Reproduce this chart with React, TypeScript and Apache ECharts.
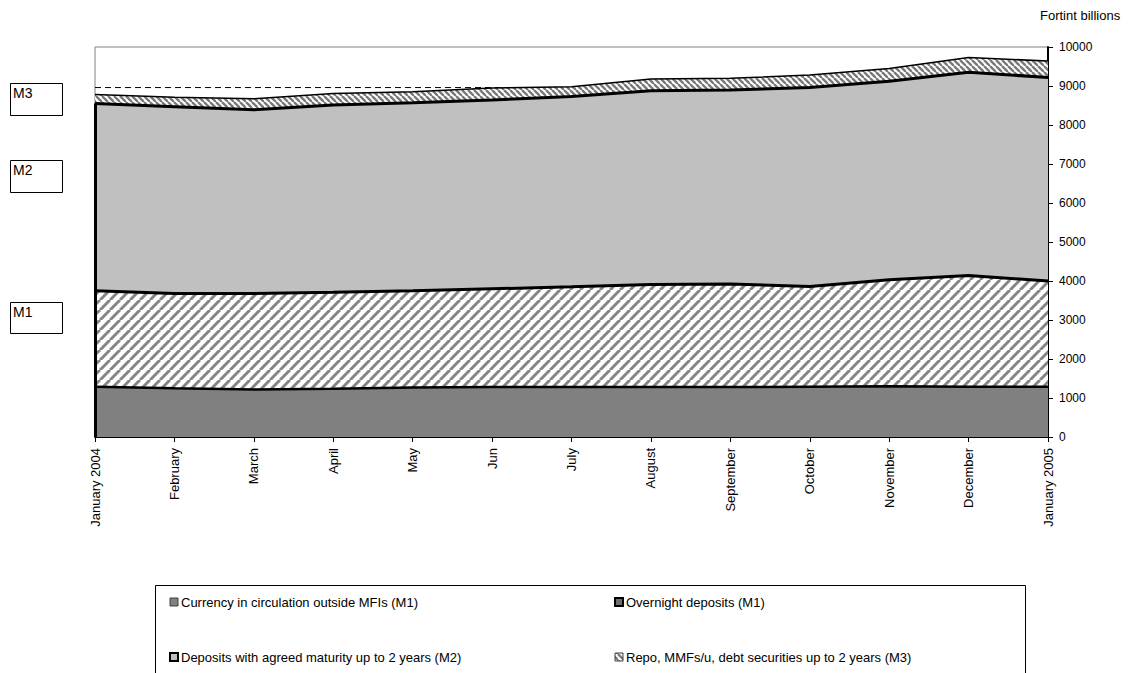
import React, { useEffect, useRef } from "react";
import * as echarts from "echarts";

// Monthly monetary aggregates, Fortint billions (stacked components)
const months = [
  "January 2004", "February", "March", "April", "May", "Jun", "July",
  "August", "September", "October", "November", "December", "January 2005",
];
const currency = [1290, 1250, 1220, 1240, 1270, 1280, 1280, 1280, 1280, 1290, 1300, 1290, 1290];
const overnight = [2460, 2430, 2460, 2470, 2480, 2520, 2570, 2630, 2640, 2570, 2730, 2850, 2710];
const agreedMaturity = [4800, 4790, 4710, 4800, 4820, 4840, 4880, 4970, 4980, 5100, 5090, 5210, 5220];
const repoMmf = [230, 240, 280, 300, 280, 310, 250, 300, 300, 320, 330, 380, 420];
const dashedLevel = [8960, 8960, 8960, 8960, 8960, 8960, 8960, 8960, 8960, 8960, 8960, 8960, 8960];

const seriesNames = [
  "Currency in circulation outside MFIs (M1)",
  "Overnight deposits (M1)",
  "Deposits with agreed maturity up to 2 years (M2)",
  "Repo, MMFs/u, debt securities up to 2 years (M3)",
];
const aggregateLabels = ["M3", "M2", "M1"];
const unitLabel = "Fortint billions";
const yMin = 0;
const yMax = 10000;
const yStep = 1000;

const FONT = "Arial, 'Liberation Sans', sans-serif";

function hatch(size: number, dir: "/" | "\\", color: string, lw: number) {
  const c = document.createElement("canvas");
  c.width = size;
  c.height = size;
  const g = c.getContext("2d")!;
  g.fillStyle = "#ffffff";
  g.fillRect(0, 0, size, size);
  g.strokeStyle = color;
  g.lineWidth = lw;
  for (const k of [-size, 0, size]) {
    g.beginPath();
    if (dir === "/") {
      g.moveTo(k, size);
      g.lineTo(k + size, 0);
    } else {
      g.moveTo(k, 0);
      g.lineTo(k + size, size);
    }
    g.stroke();
  }
  return { image: c, repeat: "repeat" as const };
}

export default function App() {
  const ref = useRef<HTMLDivElement>(null);

  useEffect(() => {
    if (!ref.current) return;
    const chart = echarts.init(ref.current, undefined, { renderer: "svg" });

    const overnightFill = hatch(10, "/", "#858585", 3.0);
    const repoFill = hatch(6, "\\", "#7a7a7a", 2.4);
    const m2Start = currency[0] + overnight[0] + agreedMaturity[0];

    const boxTops = [83, 160, 302];
    const boxHeights = [32, 32, 31];
    const labelBoxes = aggregateLabels.flatMap((t, i) => [
      {
        type: "rect",
        shape: { x: 10.5, y: boxTops[i] + 0.5, width: 52, height: boxHeights[i] },
        style: { fill: "#fff", stroke: "#000", lineWidth: 1 },
      },
      {
        type: "text",
        x: 13,
        y: boxTops[i] + 3,
        style: { text: t, font: `14px ${FONT}`, fill: "#000" },
      },
    ]);

    const legendIcons = [
      { fill: "#808080", stroke: "#404040", lw: 1 },
      { fill: "#6e6e6e", stroke: "#000", lw: 2 },
      { fill: "#c0c0c0", stroke: "#000", lw: 2 },
      { fill: repoFill, stroke: "#404040", lw: 1 },
    ];
    const legendX = [170, 615, 170, 615];
    const legendY = [602, 602, 657, 657];
    const legendItems = seriesNames.flatMap((name, i) => [
      {
        type: "rect",
        shape: { x: legendX[i], y: legendY[i] - 4, width: 8, height: 8 },
        style: { fill: legendIcons[i].fill, stroke: legendIcons[i].stroke, lineWidth: legendIcons[i].lw },
      },
      {
        type: "text",
        x: legendX[i] + 11,
        y: legendY[i],
        style: { text: name, font: `13px ${FONT}`, fill: "#000", verticalAlign: "middle" },
      },
    ]);

    chart.setOption({
      animation: false,
      backgroundColor: "#fff",
      grid: {
        left: 95,
        right: 82,
        top: 47,
        bottom: 236,
        show: true,
        borderColor: "#808080",
        borderWidth: 1,
      },
      xAxis: {
        type: "category",
        data: months,
        boundaryGap: false,
        axisLine: { lineStyle: { color: "#000", width: 2 } },
        axisTick: { show: true, length: 5, lineStyle: { color: "#000", width: 1 } },
        axisLabel: {
          rotate: 90,
          interval: 0,
          fontSize: 13,
          fontFamily: FONT,
          color: "#000",
          margin: 11,
        },
        splitLine: { show: false },
      },
      yAxis: {
        type: "value",
        position: "right",
        min: yMin,
        max: yMax,
        interval: yStep,
        axisLine: { show: true, lineStyle: { color: "#000", width: 2 } },
        axisTick: { show: true, length: 5, lineStyle: { color: "#000", width: 1 } },
        axisLabel: {
          fontSize: 12,
          fontFamily: FONT,
          color: "#000",
          margin: 11,
          formatter: (v: number) => String(v),
        },
        splitLine: { show: false },
      },
      series: [
        {
          name: "level",
          type: "line",
          data: dashedLevel,
          symbol: "none",
          silent: true,
          z: 1,
          lineStyle: { color: "#000", width: 1, type: [6, 4] },
        },
        {
          name: seriesNames[0],
          type: "line",
          stack: "money",
          data: currency,
          symbol: "none",
          z: 2,
          lineStyle: { color: "#000", width: 2.5 },
          areaStyle: { color: "#808080", opacity: 1 },
        },
        {
          name: seriesNames[1],
          type: "line",
          stack: "money",
          data: overnight,
          symbol: "none",
          z: 2,
          lineStyle: { color: "#000", width: 3 },
          areaStyle: { color: overnightFill, opacity: 1 },
        },
        {
          name: seriesNames[2],
          type: "line",
          stack: "money",
          data: agreedMaturity,
          symbol: "none",
          z: 2,
          lineStyle: { color: "#000", width: 3 },
          areaStyle: { color: "#c0c0c0", opacity: 1 },
          markLine: {
            silent: true,
            symbol: ["none", "none"],
            label: { show: false },
            lineStyle: { color: "#000", width: 3, type: "solid" },
            data: [[{ coord: [0, 0] }, { coord: [0, m2Start] }]],
          },
        },
        {
          name: seriesNames[3],
          type: "line",
          stack: "money",
          data: repoMmf,
          symbol: "none",
          z: 2,
          lineStyle: { color: "#000", width: 1.5 },
          areaStyle: { color: repoFill, opacity: 1 },
        },
      ],
      graphic: [
        {
          type: "text",
          x: 1040,
          y: 15,
          style: { text: unitLabel, font: `13px ${FONT}`, fill: "#000", verticalAlign: "middle" },
        },
        ...labelBoxes,
        {
          type: "rect",
          shape: { x: 155.5, y: 585.5, width: 870, height: 95 },
          style: { fill: "#fff", stroke: "#000", lineWidth: 1 },
        },
        ...legendItems,
      ],
    });

    return () => chart.dispose();
  }, []);

  return (
    <div
      ref={ref}
      style={{ position: "fixed", left: 0, top: 0, width: 1130, height: 673, background: "#fff" }}
    />
  );
}
